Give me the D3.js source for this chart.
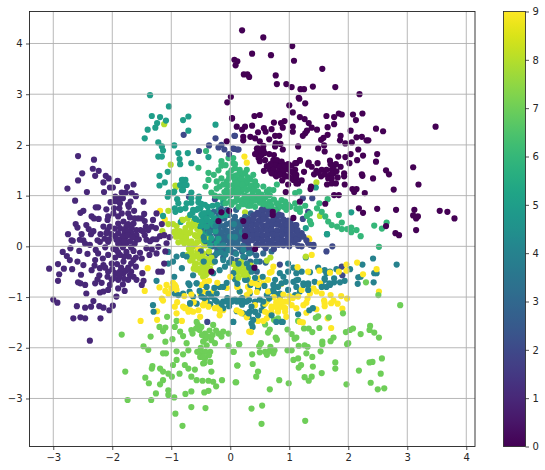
<!DOCTYPE html>
<html><head><meta charset="utf-8">
<script src="https://cdn.jsdelivr.net/npm/d3@7"></script>
<style>html,body{margin:0;padding:0;background:#fff}svg{display:block}text{font-family:"DejaVu Sans",sans-serif;font-size:10px;fill:#262626}</style>
</head><body><svg id="c" width="545" height="470"></svg>
<script>
const xTicks=[-3,-2,-1,0,1,2,3,4];
const yTicks=[-3,-2,-1,0,1,2,3,4];
const cTicks=[0,1,2,3,4,5,6,7,8,9];
const class0=[[.2,4.26],[.56,4.12],[1.05,3.95],[.37,3.8],[.69,3.77],[1.08,3.66],[.07,3.68],[.12,3.65],[.09,3.57],[1.56,3.5],[.23,3.39],[.29,3.39],[.32,3.34],[.77,3.37],[.79,3.2],[.95,3.2],[1.04,3.14],[1.19,3.1],[1.25,3.1],[1.4,3.15],[1.78,3.14],[2.19,3],[.01,2.95],[1.16,2.93],[1.17,2.91],[1.27,2.82],[1,2.78],[1.06,2.64],[1.63,2.57],[1.84,2.62],[1.89,2.6],[1.76,2.55],[2.08,2.6],[2.24,2.62],[2.13,2.49],[.41,2.57],[.5,2.59],[.03,2.53],[1.18,2.55],[1.26,2.51],[1.33,2.43],[.92,2.47],[.86,2.43],[.74,2.44],[.89,2.34],[1.76,2.41],[1.65,2.35],[1.47,2.3],[1.38,2.34],[2.04,2.28],[2.47,2.32],[2.59,2.27],[3.48,2.36],[.37,2.38],[.25,2.36],[.2,2.3],[.11,2.36],[.57,2.33],[.7,2.31],[.6,2.26],[.47,2.25],[1.06,2.36],[1.06,2.26],[1.3,2.28],[1.27,2.23],[1.23,2.18],[1.65,2.2],[1.58,2.14],[1.54,2.1],[1.87,2.18],[1.86,2.09],[2.14,2.15],[2.23,2.16],[2.31,2.09],[2.34,2.09],[1.95,2.03],[2.06,2.05],[2.17,1.91],[.22,2.16],[.22,2.09],[.34,2.16],[.42,2.13],[.5,2.07],[.76,2.18],[.83,2.18],[.66,2.11],[.77,2.03],[.85,2.02],[.76,1.97],[1.15,1.97],[1.49,1.93],[1.59,1.99],[1.6,1.87],[.45,1.93],[.56,1.98],[.48,1.87],[.56,1.9],[.53,1.8],[.89,1.91],[.66,1.82],[.48,1.74],[1.83,1.77],[1.95,1.76],[2.04,1.82],[2.25,1.79],[2.49,1.82],[2.47,1.67],[2.15,1.7],[2.02,1.64],[1.69,1.69],[.59,1.7],[.73,1.7],[.81,1.67],[.87,1.64],[.78,1.59],[.73,1.54],[.84,1.54],[.67,1.51],[.57,1.49],[.9,1.44],[.84,1.43],[.78,1.38],[.93,1.38],[1.04,1.59],[1.18,1.69],[1.12,1.64],[1.1,1.51],[1.12,1.41],[.98,1.38],[1.07,1.31],[1.21,1.3],[1.15,1.24],[1.33,1.65],[1.48,1.64],[1.32,1.61],[1.38,1.57],[1.46,1.49],[1.55,1.51],[1.63,1.51],[1.72,1.51],[1.79,1.62],[1.75,1.57],[1.87,1.57],[1.69,1.41],[1.75,1.44],[1.66,1.34],[1.72,1.34],[1.54,1.38],[1.93,1.44],[1.93,1.38],[1.94,1.22],[1.72,1.24],[1.79,1.24],[1.37,1.18],[1.36,1.13],[2.23,1.42],[2.24,1.39],[2.42,1.34],[2.64,1.5],[2.69,1.42],[3.1,1.56],[3.19,1.22],[2.77,1.12],[2.28,1.05],[2.07,1.13],[2.14,1.13],[2.1,1.07],[1.76,1.01],[1.84,1.01],[.94,1.07],[1.61,.84],[1.18,.88],[2.18,.75],[2.25,.66],[2.49,.74],[2.81,.72],[3.12,.72],[3.1,.61],[3.18,.59],[3.15,.55],[3.55,.7],[3.68,.68],[3.8,.55],[2.64,.4],[2.8,.26],[2.86,.22],[3.15,.32],[-.05,2.84],[.03,2.52],[-.06,2.07],[-.2,.5],[-.15,.67],[-.02,.7],[.42,-.05],[.72,.68],[.72,.62],[1.07,.56],[-.32,-.5],[.41,-.42],[.25,.2],[.22,.5],[.79,1.7],[.87,1.67],[.76,1.6],[.84,1.57],[.9,1.51],[.73,1.51],[.81,1.47],[.76,1.41],[.84,1.41],[.93,1.38],[.7,1.44],[1.07,1.44],[1.04,1.34],[1.12,1.34],[1.1,1.64],[1.18,1.7],[1.12,1.24],[.47,1.93],[.45,1.84],[.53,1.88],[.5,1.77],[.96,1.52],[.98,1.62],[.68,1.62],[.62,1.58],[.88,1.3],[.98,1.22],[1.02,1.48],[.92,1.6],[1.25,1.47],[1.42,1.42],[1.6,1.42],[1.5,1.45],[1.8,1.48],[1.82,1.36],[1.64,1.22],[.5,1.68],[.58,1.84],[.42,1.82],[1.7,1.62],[.74,1.8]];
const class1=[[-2.58,1.78],[-2.31,1.71],[-2.51,1.44],[-2.33,1.53],[-2.23,1.49],[-2.29,1.39],[-2.11,1.39],[-2.06,1.34],[-2.58,1.3],[-2.15,1.26],[-1.91,1.29],[-2.76,1.14],[-2.43,1.07],[-2.14,1.07],[-2.04,1.16],[-1.99,1.16],[-1.75,1.17],[-1.64,1.22],[-1.84,1.06],[-1.77,1.06],[-1.67,1.05],[-1.6,.99],[-1.95,.98],[-1.88,.95],[-2.63,.9],[-1.95,.89],[-1.87,.85],[-1.69,.88],[-1.73,.82],[-1.47,.88],[-2.28,.77],[-2.24,.77],[-2.49,.7],[-2.54,.66],[-2.1,.73],[-1.97,.75],[-1.88,.75],[-1.98,.65],[-1.84,.65],[-1.73,.65],[-1.63,.7],[-1.46,.64],[-2.35,.59],[-2.23,.54],[-2.31,.55],[-2.07,.59],[-2.08,.52],[-1.9,.59],[-1.7,.57],[-1.62,.55],[-1.56,.55],[-1.5,.55],[-1.31,.52],[-1.25,.65],[-2.62,.44],[-2.59,.37],[-2.44,.42],[-2.4,.34],[-2.15,.39],[-2.08,.32],[-2.04,.39],[-1.9,.45],[-1.81,.49],[-1.73,.44],[-1.64,.45],[-1.87,.36],[-1.76,.39],[-1.67,.36],[-1.59,.32],[-1.43,.39],[-1.33,.39],[-1.39,.32],[-1.26,.36],[-1.16,.44],[-2.75,.24],[-2.52,.24],[-2.36,.24],[-2.1,.26],[-1.9,.26],[-1.79,.27],[-1.67,.26],[-1.59,.22],[-1.45,.22],[-1.19,.2],[-2.69,.12],[-2.49,.12],[-2.25,.12],[-2.05,.14],[-1.87,.14],[-1.78,.17],[-1.55,.14],[-1.31,.14],[-2.67,.11],[-2.55,.13],[-2.46,.05],[-2.38,.03],[-2.21,.09],[-2.07,.09],[-1.93,.13],[-1.76,.06],[-1.59,.13],[-1.42,.13],[-1.25,.14],[-2.84,-.11],[-2.71,-.04],[-2.56,-.09],[-2.42,-.15],[-2.28,-.07],[-2.24,-.14],[-2.12,-.02],[-2.07,-.17],[-1.93,-.07],[-1.87,-.17],[-1.76,-.11],[-1.64,-.09],[-1.53,-.13],[-1.42,-.04],[-1.22,-.01],[-1.08,.06],[-2.77,-.19],[-2.72,-.27],[-2.59,-.3],[-2.49,-.37],[-2.29,-.27],[-2.16,-.24],[-2.15,-.37],[-2.01,-.34],[-1.81,-.3],[-1.64,-.27],[-1.5,-.24],[-1.37,-.17],[-1.25,-.14],[-1.12,-.34],[-1.22,-.5],[-1.16,-.5],[-2.92,-.35],[-3.07,-.44],[-2.82,-.44],[-2.68,-.45],[-2.9,-.55],[-2.92,-.68],[-2.53,-.56],[-2.58,-.71],[-2.54,-.73],[-2.35,-.47],[-2.21,-.43],[-2.22,-.57],[-2.25,-.65],[-2.29,-.73],[-2.46,-.76],[-2.44,-.93],[-2.07,-.5],[-2.08,-.6],[-2.01,-.66],[-2.04,-.76],[-2.21,-.91],[-2.15,-.89],[-2.07,-.86],[-1.95,-.53],[-1.9,-.66],[-1.81,-.53],[-1.7,-.57],[-1.73,-.66],[-1.64,-.6],[-1.49,-.53],[-1.59,-.66],[-1.47,-.68],[-1.9,-.83],[-1.79,-.88],[-1.93,-.99],[-1.5,-.76],[-3,-1.05],[-2.93,-1.11],[-2.6,-1.18],[-2.32,-1.08],[-2.36,-1.19],[-2.46,-1.21],[-2.22,-1.18],[-2.15,-1.21],[-2.05,-1.26],[-1.99,-1.17],[-2.66,-1.42],[-2.54,-1.4],[-2.46,-1.42],[-2.2,-1.42],[-2.38,-1.86],[-1.95,.2],[-1.85,.05],[-1.7,.1],[-1.98,-.05],[-1.72,-.2],[-1.95,-.22],[-1.85,-.42],[-2,-.45],[-1.73,-.42],[-1.6,-.4],[-1.92,-.35],[-2.12,-.42],[-1.88,-.6],[-1.82,-.75],[-2.18,-.72],[-1.68,-.02],[-1.82,-.02],[-1.8,.33],[-1.74,.3],[-1.82,.2],[-1.74,.22],[-1.66,.18],[-1.8,.1],[-1.9,.05],[-1.62,.05],[-1.52,.32],[-1.48,.3],[-1.96,.35],[-2.02,.24],[-1.9,-.12],[-1.8,-.2],[-1.68,-.34],[-1.77,-.48],[-1.87,-.5],[-1.97,-.62],[-1.8,-.64],[-1.68,-.5],[-1.6,-.22],[-2.3,-.38],[-2.32,.3],[-2.2,.24],[-2.13,.15],[-1.45,.5],[-1.36,.1],[-1.33,-.06],[-1.12,.22],[-1.03,.18],[-1.1,-.1],[-1.72,.78],[-2.03,.87],[-1.82,.95]];
const class2=[[.07,2.18],[.07,1.92],[.12,1.91],[-.79,2.2],[-.25,2.13],[.08,2.18],[-.53,1.88],[-.36,1.99],[-.2,1.95],[-.15,2],[-.1,1.91],[.05,1.93],[.14,1.91],[-.02,1.82],[-.7,.98],[-.26,.93],[0,1.01],[1.15,.01],[1.21,0],[1.32,.06],[1.41,.03],[1.73,0],[1.63,-.1],[1.89,-.4],[1.9,-.57],[.84,-.36],[-.39,-1.49],[1.23,.95],[1.39,.95],[1.32,.68],[1.23,.54],[1.07,.39],[1.21,.26],[1.07,.19],[.3,.55],[.42,.62],[.55,.68],[.68,.66],[.8,.6],[.92,.5],[1.02,.48],[.28,.38],[.38,.45],[.5,.5],[.6,.55],[.72,.48],[.84,.42],[.96,.38],[1.12,.3],[.26,.22],[.36,.28],[.46,.35],[.58,.4],[.68,.34],[.8,.3],[.9,.26],[1,.24],[1.16,.14],[.3,.08],[.4,.16],[.52,.22],[.62,.2],[.74,.18],[.86,.14],[.96,.12],[1.08,.08],[.32,-.04],[.44,.03],[.55,.08],[.66,.05],[.78,.04],[.9,.02],[1,.0],[.6,-.04],[.74,-.05],[.46,.66],[.62,.72],[.34,.5],[.24,.12],[.52,.6],[.78,.52],[.9,.38],[.64,.44],[.44,.25],[.82,.08],[.7,.27],[1.04,.32],[1.1,.42],[.53,.72],[.62,.73],[.7,.71],[.76,.72],[.39,.61],[.48,.63],[.56,.61],[.65,.63],[.73,.6],[.82,.63],[.87,.61],[.31,.52],[.39,.53],[.48,.51],[.56,.53],[.65,.5],[.73,.53],[.82,.5],[.9,.53],[.98,.51],[.28,.42],[.37,.41],[.45,.43],[.54,.42],[.62,.4],[.71,.42],[.79,.43],[.88,.41],[.96,.43],[1.04,.41],[1.12,.42],[.29,.33],[.37,.31],[.45,.33],[.53,.32],[.62,.31],[.7,.33],[.79,.31],[.88,.33],[.96,.31],[1.04,.33],[1.14,.32],[.3,.22],[.38,.21],[.46,.23],[.55,.22],[.63,.21],[.72,.23],[.8,.21],[.88,.23],[.97,.21],[1.05,.22],[1.15,.22],[1.24,.19],[1.29,.12],[1.35,.03],[1.41,0],[.29,.13],[.37,.12],[.46,.14],[.54,.12],[.63,.13],[.71,.12],[.8,.14],[.88,.12],[.96,.13],[1.04,.12],[1.12,.13],[.48,.03],[.56,.02],[.65,.04],[.73,.02],[.82,.03],[.9,.04],[.98,.07],[.25,.3],[.25,.43]];
const class3=[[-.4,.6],[-.3,.48],[-.2,.62],[-.34,.2],[-.28,.32],[-.25,.1],[-.18,.4],[-.16,.22],[-.1,.55],[-.08,.32],[-.05,.12],[0,.46],[.02,.25],[.05,.05],[.08,.58],[.12,.3],[.15,-.02],[.18,.15],[-.3,0],[-.22,-.06],[-.15,-.02],[-.08,-.1],[0,-.05],[.08,-.12],[.2,-.1],[.28,-.05],[.36,-.12],[.44,-.18],[-.26,-.18],[-.12,-.22],[.02,-.25],[.12,-.28],[.25,-.22],[.34,-.3],[-.36,-.14],[-.42,.1],[-.46,.32],[-.4,.42],[-.06,.72],[.1,.72],[-.02,.62],[.25,.58],[-.24,.25],[-.12,.08],[.03,.38],[.1,.13],[-.18,.5],[-.32,.12],[-.04,-.02],[.1,.02],[.22,.02],[.3,.02],[-.08,.2],[-.02,.02],[.18,.42],[.26,.3],[.7,-.1],[.56,-.14],[.5,-.3],[.6,-.32],[.45,-.5],[-.28,.68],[.35,.65],[-.5,-.1],[-.16,.75],[-.2,.3],[-.12,.4],[-.04,.3],[.04,.2],[.12,.38],[.2,.24],[-.3,.38],[-.22,.15],[-.14,.15],[-.06,.44],[.04,.5],[.12,.48],[.18,.32],[-.1,-.02],[.04,-.12],[.12,.07],[-.38,.3],[.2,.52],[-.25,.44],[.02,.12],[-.18,.04],[-.02,.2],[.08,.27],[.15,.22],[-.14,.28]];
const class4=[[1.64,.24],[1.28,-.22],[.98,-.34],[1.07,-.42],[.84,-.53],[.98,-.5],[1.12,-.53],[1.21,-.5],[1.35,-.51],[1.49,-.42],[1.6,-.47],[1.69,-.5],[1.8,-.45],[2.03,-.45],[2.24,-.36],[2.42,-.24],[2.82,-.36],[2.48,-.53],[2.44,-.53],[2.21,-.6],[2.17,-.61],[2.16,-.74],[2.43,-.71],[1.94,-.68],[1.86,-.71],[1.76,-.63],[1.76,-.71],[1.63,-.53],[1.6,-.66],[1.68,-.73],[1.63,-.8],[1.55,-.76],[1.43,-.7],[1.32,-.73],[1.24,-.73],[1.15,-.66],[1.07,-.7],[.98,-.86],[1.12,-.8],[1.18,-.89],[1.1,-.96],[.84,-1],[.73,-.76],[.67,-.89],[.76,-.93],[.84,-.93],[.62,-.96],[.45,-.73],[.47,-.83],[.34,-.76],[.25,-.66],[.08,-.65],[.16,-.89],[.33,-.93],[.25,-1.09],[.11,-1.09],[.03,-1.09],[.42,-1.09],[.56,-1.16],[.53,-1.26],[.33,-1.29],[.42,-1.29],[.31,-1.39],[.36,-1.52],[.38,-1.59],[.05,-1.49],[.89,-1.49],[1.4,-1.22],[1.34,-1.26],[1.15,-1.34],[-1.25,-.68],[-1.31,-1.16],[-1.3,-1.29],[-.8,-.17],[-1.05,-.34],[-.95,-.6],[-.69,-.76],[-.57,-.73],[-.44,-.76],[-.8,-.93],[-.94,-.93],[-.69,-.89],[-.63,-.99],[-.49,-.99],[-.32,-.99],[-.23,-.93],[-.12,-1.09],[0,-1.09],[.16,-1.09],[.11,-1.28],[.22,-1.32],[.28,-.66],[-.57,-1.13],[-.68,-1.13],[-.23,-1.09],[-.34,-1.14],[-.12,-1.22],[-.18,-.8],[-1.05,-.11],[-.97,-.3],[-.91,-.2],[-.82,-.43],[-.74,-.2],[-.63,-.57],[-.29,-.53],[-.18,-.47],[-.09,-.4],[.05,-.53],[.14,-.34],[.28,-.34],[-.12,-.27],[-.23,-.14],[-.18,0],[-.03,-.07],[.22,-.07],[0,.19],[-.4,-1.06],[-.26,-1.06],[-.05,-1.02],[.08,-1.05],[.2,-1.02],[.32,-1.06],[.5,-1.05],[.36,-.5],[.55,-.6],[-.45,-.3],[-.35,.28],[-.12,.02],[.08,.18],[.2,.28],[-.25,.4],[.06,.44],[-.45,.18],[-.88,-.96],[-.71,-.73],[-.57,-.73],[-.68,-1.12],[-.37,-.93],[-.4,-.8],[-.12,-.8],[-.06,-1.09],[.05,-1.06],[.16,-1.06],[.28,-1.09],[.36,-1.19],[.42,-1.29],[.31,-1.32],[.39,-1.45],[.47,-1.36],[.56,-1.09],[.76,-.66],[.81,-.8],[.73,-.86],[.87,-.73],[1.12,-.67],[1.24,-.76],[1.32,-.86],[1.32,-.76],[1.6,-.63],[1.69,-.76],[1.55,-.8],[.05,-1.49],[.87,-1.49],[.78,-1.49],[.7,-1.36],[-.26,-.3],[-.02,-.32],[.1,-.15],[.22,-.2],[.32,-.14],[.44,-.3],[-.08,-.16],[-.16,-.12],[.32,-.42],[.42,-.62],[.12,-.74],[-.06,-.72],[-.52,-.88],[-.27,-.82],[.58,-.78],[.94,-.7],[.9,-.6],[-.44,-1.02],[-.15,-1.13],[-.02,-1.18],[.66,-1.03],[.2,-1.15]];
const class5=[[-1.36,2.98],[-1.04,2.76],[-1.33,2.57],[-1.19,2.55],[-1.09,2.48],[-1.24,2.43],[-1.27,2.34],[-1.4,2.3],[-1.45,2.13],[-.8,2.49],[-.71,2.56],[-.71,2.28],[-.25,2.4],[-1.22,2.05],[-1.16,1.97],[-1.14,1.89],[-1.22,1.77],[-1.16,1.77],[-.95,1.99],[-.88,1.84],[-.86,1.72],[-.85,1.62],[-.72,1.84],[-.66,1.64],[-.37,1.76],[-1.06,1.47],[-1.2,1.39],[-1.2,1.2],[-1.11,1.26],[-.8,1.31],[-.76,1.31],[-.8,1.21],[-.74,1.21],[-.82,1.11],[-.95,1.08],[-1.04,1.06],[-1.06,.98],[-.9,.93],[-.88,.85],[-.66,1.06],[-.53,.98],[-.66,.86],[-.54,.87],[-.49,.84],[-.84,.73],[-.76,.75],[-.93,.68],[-1.14,.6],[-.64,.66],[-.57,.72],[-.51,.75],[-.84,.48],[-.49,.62],[-.43,.65],[-.4,.52],[-.32,.65],[-.2,.72],[-.34,.39],[-.23,.49],[-.51,.39],[-.46,.52],[-.4,.32],[-.57,.52],[2.05,.67],[1.45,1.16],[1.28,.36],[1.64,.24],[-.3,.8],[-.12,.85],[-.44,.25],[-.36,.12],[-.28,.55],[-.15,.6],[-.45,.42],[-.25,.3],[-.2,.15],[-.34,.02],[-.82,1.31],[-.85,1.21],[-.77,1.21],[-.8,1.11],[-.97,1.05],[-.74,.85],[-.66,.95],[-.54,.95],[-.43,.82],[-.51,.75],[-.37,.68],[-.46,.65],[-.32,.62],[-.4,.55],[-.49,.49],[-.34,.49],[-.26,.55],[-.4,.39],[-.29,.42],[-.94,.75],[-.85,.72],[-.63,.72],[-.68,.62],[-.6,.55],[-.54,.75],[-.37,.26],[-.32,.16],[-.23,.06],[-.44,.12],[-.08,.62],[-.38,.78],[-.22,.82]];
const class6=[[-.41,1.88],[-.54,1.55],[-.15,1.68],[-.15,1.59],[-.03,1.74],[.05,1.74],[-.37,1.45],[-.28,1.41],[-.37,1.31],[-.42,1.18],[-.15,1.34],[-.23,1.28],[-.03,1.44],[.08,1.54],[.16,1.51],[.28,1.51],[.19,1.38],[.05,1.38],[-.06,1.28],[-.18,1.18],[-.23,1.14],[-.32,1.06],[-.06,1.11],[.05,1.21],[.14,1.24],[.28,1.24],[-.18,.98],[-.12,.91],[-.09,.98],[.05,1.05],[.19,1.08],[.28,1.11],[.11,.91],[.19,.91],[.05,1.64],[.08,1.62],[.16,1.46],[.25,1.44],[.39,1.41],[.14,1.31],[.28,1.28],[.42,1.28],[.56,1.18],[.33,1.14],[.19,1.14],[.47,1.08],[.05,1.11],[.11,.98],[.31,.98],[.45,.98],[.56,.91],[.67,1.01],[.79,1.22],[.73,1.11],[.62,1.08],[.19,.88],[.36,.88],[.56,.78],[.67,.88],[.79,.85],[.87,.91],[.93,.88],[.9,.78],[.81,.75],[.98,.82],[1.1,.85],[1.17,1.08],[1.1,1.05],[1.18,.75],[1.27,.8],[1.18,.68],[1.35,.65],[1.51,.85],[1.47,.75],[1.65,.93],[1.55,.68],[1.61,.59],[1.66,.49],[1.72,.42],[1.84,.62],[1.89,.47],[1.81,.39],[1.89,.34],[1.98,.34],[2.05,.37],[2.14,.32],[2.05,.28],[2.21,.2],[2.44,.41],[2.57,.35],[2.65,.47],[1.37,.44],[1.35,.5],[1.3,.6],[2.52,-.01],[.36,1.2],[.12,1.18],[.24,1.0],[.38,1.05],[-.02,1],[.5,.86],[.3,.8],[.42,.78],[.14,.78],[.0,.88],[-.04,1.2],[.2,1.32],[.1,1.4],[.34,1.32],[.64,.8],[.76,.72],[.95,.72],[.02,.82],[.08,.88],[.22,.83],[.28,.9],[.34,.8],[.42,.9],[.5,.95],[.58,.85],[.7,.8],[.74,.92],[.84,.8],[-.04,1.07],[.14,1.04],[.24,1.17],[.4,1.14],[.53,1.02],[.45,1.2],[.6,.97],[.66,1.12],[-.1,1.07],[-.02,1.35],[.08,1.3],[.22,1.44],[.3,1.36],[-.2,1.5],[-.08,1.6],[.02,1.5],[.1,1.08],[-.12,1.22],[-.26,1.0],[-.08,.85],[1.02,.78],[1.12,.74],[.28,.98],[.38,.96],[.13,1.12],[.2,1.22],[.1,1.25]];
const class7=[[-1.84,-1.74],[-1.35,-1.78],[-1.07,-1.39],[-1.2,-1.59],[-1.1,-1.6],[-1.14,-1.67],[-.91,-1.47],[-.94,-1.59],[-.85,-1.68],[-.8,-1.77],[-.98,-1.83],[-1.1,-1.88],[-.74,-1.91],[-.66,-1.65],[-.64,-1.72],[-.57,-1.49],[-.49,-1.59],[-.43,-1.72],[-.29,-1.55],[-.2,-1.72],[-.03,-1.72],[-.15,-1.78],[-.32,-1.85],[-.4,-1.95],[-.26,-1.91],[-.49,-2.08],[-.51,-2.18],[-.43,-2.21],[-.34,-2.08],[-.03,-1.96],[.15,-1.93],[-1.47,-1.97],[-1.39,-2.04],[-1.14,-2.11],[-1.09,-2.11],[-.91,-2.07],[-.71,-2.05],[-.8,-2.13],[-.91,-2.24],[-.97,-2.34],[-1.32,-2.36],[-1.33,-2.41],[-1.19,-2.41],[-1.14,-2.47],[-1.05,-2.51],[-.99,-2.57],[-.86,-2.51],[-.77,-2.34],[-.71,-2.41],[-.6,-2.43],[-.32,-2.47],[-.46,-2.31],[-1.78,-2.47],[-1.44,-2.59],[-1.38,-2.7],[-1.19,-2.72],[-1.14,-2.64],[-1.26,-2.9],[-1.05,-2.84],[-1.05,-2.93],[-.95,-2.98],[-.76,-2.91],[-.66,-2.86],[-.66,-2.57],[-.57,-2.64],[-.47,-2.65],[-.37,-2.65],[-.29,-2.67],[-.24,-2.76],[-.14,-2.64],[.1,-2.68],[.12,-2.35],[.05,-2.08],[-.44,-2.88],[-.37,-2.85],[-1.74,-3.03],[-1.34,-3.03],[-.93,-3.3],[-.66,-3.17],[-.42,-3.19],[-.81,-3.54],[2.88,-1.16],[2.51,-.96],[2.3,-.71],[1.91,-1.32],[1.45,-1.41],[1.49,-1.38],[1.67,-1.4],[1.15,-1.47],[.81,-1.42],[.74,-1.45],[.59,-1.54],[.67,-1.64],[.64,-1.7],[.97,-1.64],[1.04,-1.73],[1.12,-1.8],[1.09,-1.82],[1.25,-1.62],[1.33,-1.62],[1.39,-1.69],[1.51,-1.61],[.77,-1.8],[.79,-1.84],[.52,-1.91],[.49,-1.97],[.68,-1.98],[.15,-1.93],[.06,-2.08],[1.16,-1.96],[1.26,-1.95],[1.31,-1.98],[.97,-2.05],[1.04,-2.05],[.75,-2.05],[.67,-2.06],[.59,-2.08],[.5,-2.09],[.62,-2.14],[.73,-2.11],[.37,-2.13],[1.29,-2.11],[1.53,-2.07],[1.56,-1.88],[1.56,-1.93],[1.7,-1.87],[1.75,-1.8],[1.98,-1.93],[2,-1.91],[1.96,-1.69],[2.03,-1.65],[2.08,-1.62],[2.21,-1.73],[2.36,-1.65],[2.37,-1.57],[2.44,-1.7],[2.52,-1.8],[2.57,-2.21],[2.36,-2.29],[2.41,-2.28],[2.18,-2.45],[2.55,-2.51],[2.38,-2.69],[1.97,-2.72],[2.5,-2.82],[2.61,-2.8],[1.78,-2.29],[1.78,-2.41],[1.55,-2.5],[1.39,-2.18],[1.15,-2.21],[1.07,-2.24],[1.2,-2.34],[1.16,-2.39],[1.4,-2.37],[1.26,-2.58],[1.38,-2.57],[1.33,-2.65],[.83,-2.64],[.99,-2.7],[.67,-2.82],[.47,-2.47],[.44,-2.57],[.38,-2.32],[.12,-2.35],[.09,-2.68],[.36,-3.2],[.54,-3.14],[.53,-3.5],[1.27,-3.44],[-.42,-1.82],[-.35,-1.66],[-.48,-1.75],[-.55,-1.55],[-.5,-2],[-.42,-2.08],[-.36,-2.15],[-.3,-1.75],[-.12,-1.68],[-.52,-1.65],[-.58,-1.62],[-.46,-1.88],[-.38,-1.78],[-.24,-1.66],[-.44,-2.3],[-.34,-2.28],[-.56,-2.08],[-.46,-2.18]];
const class8=[[-1.12,2.41],[-1.01,1.61],[-.93,1.2],[-.92,1.17],[-1.05,.7],[-1.05,.44],[-.97,.44],[-1.15,.3],[.25,.67],[1.46,1.26],[1.52,.6],[-.91,.4],[-.82,.52],[-.72,.55],[-.62,.5],[-.52,.45],[-.44,.38],[-.86,.3],[-.76,.36],[-.66,.38],[-.56,.34],[-.9,.2],[-.8,.2],[-.7,.26],[-.6,.22],[-.5,.2],[-.88,.08],[-.74,.12],[-.66,.1],[-.56,.08],[-.46,.08],[-.62,0],[-.5,-.04],[-.42,.02],[-.66,-.1],[-.56,-.1],[-.46,-.14],[-.36,-.1],[-.6,-.2],[-.52,-.24],[-.42,-.24],[-.32,-.22],[-.68,-.28],[-.58,-.34],[-.48,-.34],[-.38,-.34],[-.3,-.32],[-.62,-.44],[-.52,-.44],[-.42,-.44],[-.34,-.44],[-.5,-.52],[-.4,-.54],[-.46,-.6],[-.95,.28],[-.78,.06],[-.7,.44],[.16,-.47],[.1,-.42],[.2,-.38],[.26,-.46],[.12,-.52],[.22,-.56],[.3,-.52],[.05,-.35],[.18,-.3],[.3,-.62],[.14,-.62],[.62,-.28],[.68,-.22],[1.28,-.2],[-.7,-.05],[.35,-.38],[-.8,.52],[-.68,.42],[-.6,.42],[-.94,.29],[-.85,.28],[-.77,.29],[-.68,.28],[-.52,.28],[-.92,.19],[-.83,.19],[-.75,.18],[-.57,.19],[-.49,.14],[-.4,.18],[-.82,.1],[-.7,.06],[-.6,.04],[-.72,-.17],[-.64,-.18],[-.56,-.16],[-.48,-.2],[-.64,-.27],[-.45,-.28],[-.36,-.27],[-.6,-.37],[-.44,-.37],[-.56,-.46],[-.46,-.47],[-.42,-.57],[-.46,-.5],[.2,-.5],[.08,-.48],[.26,-.56]];
const class9=[[.24,1.77],[.28,1.65],[-1.19,.7],[-1.11,.53],[1.33,.16],[-1.4,-.43],[-1.45,-.88],[-1.52,-1.47],[-1.24,-1.45],[-1.24,-1.28],[-1.2,-.81],[-1.16,-1.03],[-1.14,-1.07],[-1.08,-.76],[-1.1,-.88],[-1.05,-.93],[-.97,-.72],[-.92,-.8],[-.94,-1.19],[-.91,-1.32],[-.82,-1.47],[-.8,-1.19],[-.74,-1.22],[-.68,-1.26],[-.63,-1.29],[-.54,-1.26],[-.46,-1.16],[-.51,-.93],[-.43,-.89],[-.29,-.89],[-.2,-1.19],[-.12,-1.26],[-.18,-1.36],[-.51,-1.39],[.12,-.8],[.16,-.89],[.3,-.8],[.32,-1.68],[-.54,-.04],[1.34,.14],[1.38,-.17],[1.97,-.36],[2.15,-.32],[2.25,-.55],[2.48,-.45],[2.52,-.89],[1.98,-1.03],[1.88,-.98],[1.7,-.96],[1.59,-1.07],[1.6,-1.18],[1.75,-1.07],[1.82,-1.13],[1.9,-1.23],[1.65,-1.42],[1.71,-1.61],[1.23,-1.5],[1.46,-1.24],[1.29,-1.31],[1.84,-.5],[1.97,-.48],[1.69,-.52],[1.51,-.48],[1.14,-.41],[.67,-.52],[.73,-.4],[.87,-.74],[1.52,-.73],[1.41,-.83],[1.35,-.93],[1.46,-.89],[1.55,-.93],[1.21,-.86],[1.15,-.99],[1.31,-1.03],[1.29,-1.11],[.64,-.66],[.56,-.73],[.5,-.63],[.36,-.72],[.33,-.89],[.64,-.89],[.76,-1.19],[.7,-1.22],[.84,-1.06],[.87,-1.09],[.93,-1.09],[.98,-1.09],[1.04,-1.16],[1.12,-1.22],[.81,-1.26],[.93,-1.29],[.95,-1.39],[.59,-1.13],[.47,-1.47],[.56,-1.47],[.35,-1.69],[.28,-1.4],[.19,-1.32],[.11,-1.26],[.12,-.8],[.28,-.96],[.42,-1.16],[-.78,-.98],[-.66,-.95],[-.36,-.68],[-.22,-.72],[-.06,-.82],[.0,-.6],[.74,-1],[.9,-.95],[1,-.98],[1.06,-1.02],[.7,-1.3],[.62,-1.42],[.78,-1.1],[.84,-1.18],[.9,-1.2],[-.9,-1.1],[-.62,-1.1],[-.46,-1.16],[-.43,-1.09],[-.77,-1.22],[-.71,-1.29],[-.91,-.86],[-1,-.83],[-.94,-.76],[-.49,-.76],[-.43,-.7],[-.37,-1.19],[-.26,-1.22],[-.18,-1.26],[.16,-1.29],[.47,-.76],[.45,-.9],[.7,-.5],[.42,-.73],[.62,-1.09],[.7,-1.19],[.78,-1.16],[.87,-1.09],[.93,-1.22],[.81,-1.29],[.64,-1.32],[.59,-1.29],[1.24,-1.16],[1.18,-1.49],[1.32,-.5],[1.6,-1.12],[1.71,-1.12]];
const series=[class0,class1,class2,class3,class4,class5,class6,class7,class8,class9];

const svg=d3.select("#c");
const M={l:29.5,r:475,t:11.5,b:446.5};
const x=d3.scaleLinear().domain([-3.403,4.148]).range([M.l,M.r]);
const y=d3.scaleLinear().domain([-3.947,4.631]).range([M.b,M.t]);
const color=d3.scaleSequential(d3.interpolateViridis).domain([0,9]);

// Marks are drawn in an interleaved order so classes overlap as they do in the figure
const n=d3.max(series,s=>s.length);
const pts=[];
for(let i=0;i<n;i++)series.forEach((s,k)=>{if(i<s.length)pts.push({p:s[i],k})});
svg.append("g").selectAll("circle").data(pts).join("circle")
 .attr("cx",d=>x(d.p[0])).attr("cy",d=>y(d.p[1])).attr("r",3.1).attr("fill",d=>color(d.k));

const grid=svg.append("g").attr("stroke","#b0b0b0").attr("stroke-width",.9);
grid.selectAll("line.v").data(xTicks).join("line").attr("class","v")
 .attr("x1",x).attr("x2",x).attr("y1",M.t).attr("y2",M.b);
grid.selectAll("line.h").data(yTicks).join("line").attr("class","h")
 .attr("y1",y).attr("y2",y).attr("x1",M.l).attr("x2",M.r);

function style(g){g.selectAll("path").remove();g.selectAll("line").attr("stroke","#222").attr("stroke-width",.8);g.selectAll("text").attr("fill","#262626").style("font-size","10px").style("font-family",'"DejaVu Sans",sans-serif');}
svg.append("g").attr("transform",`translate(0,${M.b})`).call(d3.axisBottom(x).tickValues(xTicks).tickSize(3.5).tickPadding(3.5)).call(style);
svg.append("g").attr("transform",`translate(${M.l},0)`).call(d3.axisLeft(y).tickValues(yTicks).tickSize(3.5).tickPadding(3.5)).call(style);
svg.append("rect").attr("x",M.l).attr("y",M.t).attr("width",M.r-M.l).attr("height",M.b-M.t).attr("fill","none").attr("stroke","#222").attr("stroke-width",.9);

// colour bar
const cbL=503.5,cbR=525.5;
const cy=d3.scaleLinear().domain([0,9]).range([M.b,M.t]);
const grad=svg.append("defs").append("linearGradient").attr("id","vir").attr("x1",0).attr("x2",0).attr("y1",1).attr("y2",0);
d3.range(0,9.01,.25).forEach(v=>grad.append("stop").attr("offset",v/9).attr("stop-color",color(v)));
svg.append("rect").attr("x",cbL).attr("y",M.t).attr("width",cbR-cbL).attr("height",M.b-M.t).attr("fill","url(#vir)").attr("stroke","#222").attr("stroke-width",.8);
svg.append("g").attr("transform",`translate(${cbR},0)`).call(d3.axisRight(cy).tickValues(cTicks).tickFormat(d3.format("d")).tickSize(3.5).tickPadding(3.5)).call(style);
</script></body></html>
